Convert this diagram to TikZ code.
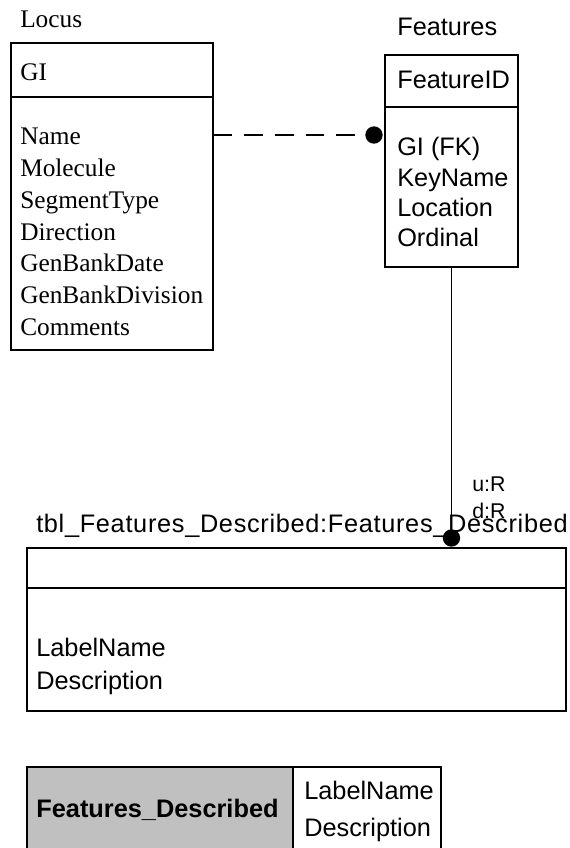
\documentclass[tikz,border=0pt]{standalone}
\usepackage{fontspec}
\setmainfont{Liberation Sans}
\newfontfamily\locusfont{Liberation Serif}
\newfontfamily\widefont[LetterSpace=2.7]{Liberation Sans}
\usetikzlibrary{fit}
\definecolor{keygray}{RGB}{192,192,192}
\tikzset{>=stealth,
  tbl/.style={draw, line width=1.1pt, inner sep=0pt},
  fld/.style={anchor=base west, inner sep=0pt, font=\fontsize{19}{23}\selectfont},
  serif/.style={anchor=base west, inner sep=0pt, font=\locusfont\fontsize{19}{23}\selectfont},
  tag/.style={anchor=base west, inner sep=0pt, font=\fontsize{16}{19}\selectfont},
  foot/.style={fill=black, circle, inner sep=0pt, minimum size=13pt}}

\begin{document}
\begin{tikzpicture}[x=0.75pt, y=-0.75pt]
    \useasboundingbox (0,0) rectangle (569,848);
    \clip (0,0) rectangle (569,848);
    % Locus table
    \node[serif] (locuslbl) at (20,28) {Locus};
    \node[tbl, fit={(11,43) (213,350)}] (locus) {};
    \draw[line width=1.1pt] (locus.west |- 0,97) -- (locus.east |- 0,97);
    \node[serif] (locuskey) at (20,81) {GI};
    \foreach \f [count=\i from 0] in {Name,Molecule,SegmentType,Direction,GenBankDate,GenBankDivision,Comments}
        \node[serif] (la\i) at (20,{145+31.7*\i}) {\f};
    % Features table
    \node[fld] (featlbl) at (397,36) {Features};
    \node[tbl, fit={(385,55) (518,267)}] (feat) {};
    \draw[line width=1.1pt] (feat.west |- 0,107) -- (feat.east |- 0,107);
    \node[fld] (featkey) at (397,89) {FeatureID};
    \foreach \f [count=\i from 0] in {GI (FK),KeyName,Location,Ordinal}
        \node[fld] (fa\i) at (397,{156+30.3*\i}) {\f};
    % tbl_Features_Described
    \node[fld, font=\widefont\fontsize{19}{23}\selectfont] (desclbl) at (36,532) {tbl\_Features\_Described:Features\_Described};
    \node[tbl, fit={(27,548) (566,711)}] (desc) {};
    \draw[line width=1.1pt] (desc.west |- 0,588) -- (desc.east |- 0,588);
    \node[fld] (da0) at (36,656) {LabelName};
    \node[fld] (da1) at (36,689) {Description};
    % relationships
    \node[foot] (dotA) at (374,135) {};
    \draw[line width=1.1pt, dash pattern=on 14pt off 9pt] (locus.east |- dotA) -- (dotA);
    \node[foot] (dotB) at (451.5,538) {};
    \draw[line width=1.1pt] (feat.south) -- (dotB);
    \node[tag] (up) at (472,491) {u:R};
    \node[tag] (dn) at (472,518) {d:R};
    % key
    \node[tbl, fill=keygray, fit={(27,767) (293,870)}] (keybox) {};
    \node[tbl, fit={(293,767) (441,870)}] (keyattr) {};
    \node[anchor=base, inner sep=0pt, font=\bfseries\fontsize{19}{23}\selectfont] (keyname) at (157.5,817) {Features\_Described};
    \node[fld] (ka0) at (304,799) {LabelName};
    \node[fld] (ka1) at (304,836) {Description};
\end{tikzpicture}
\end{document}
